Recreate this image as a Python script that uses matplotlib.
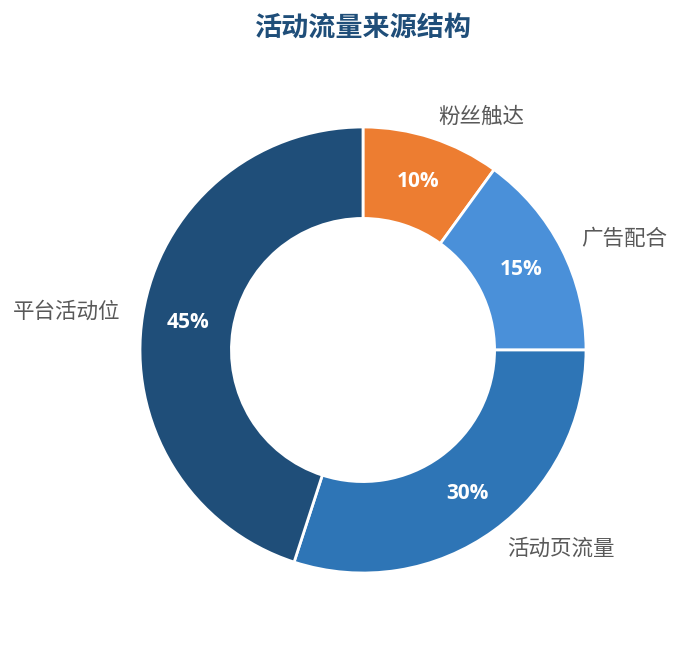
import matplotlib
matplotlib.use('Agg')
import matplotlib.pyplot as plt

plt.rcParams['font.family'] = ['Noto Sans CJK SC', 'DejaVu Sans']

# data, clockwise from the top
labels = ['粉丝触达', '广告配合', '活动页流量', '平台活动位']
shares = [10, 15, 30, 45]
colors = ['#ED7D31', '#4A90D9', '#2E75B6', '#1F4E79']
title = '活动流量来源结构'

W, H = 681, 645
fig = plt.figure(figsize=(W / 100, H / 100), dpi=100)

# pie center (363, 350) px, outer radius 223 px
R = 223
lim = 1.4
size = 2 * lim * R
cx, cy = 363, H - 350
ax = fig.add_axes([(cx - size / 2) / W, (cy - size / 2) / H, size / W, size / H])

wedges, texts, autotexts = ax.pie(
    shares, labels=labels, colors=colors, startangle=90, counterclock=False,
    autopct='%d%%', pctdistance=0.795, labeldistance=1.1,
    wedgeprops=dict(width=0.41, edgecolor='white', linewidth=2),
    textprops=dict(fontsize=15.5, color='#595959'))
for t in autotexts:
    t.set_color('white')
    t.set_fontsize(15)
    t.set_fontweight('bold')
    t.set_family(['Open Sans', 'DejaVu Sans'])

ax.set_xlim(-lim, lim)
ax.set_ylim(-lim, lim)
ax.set_aspect('equal')
ax.axis('off')

fig.text(363 / W, 1 - 28 / H, title, ha='center', va='center',
         fontsize=19.5, fontweight='bold', color='#1F4E79')

fig.savefig('out.png', dpi=100)
